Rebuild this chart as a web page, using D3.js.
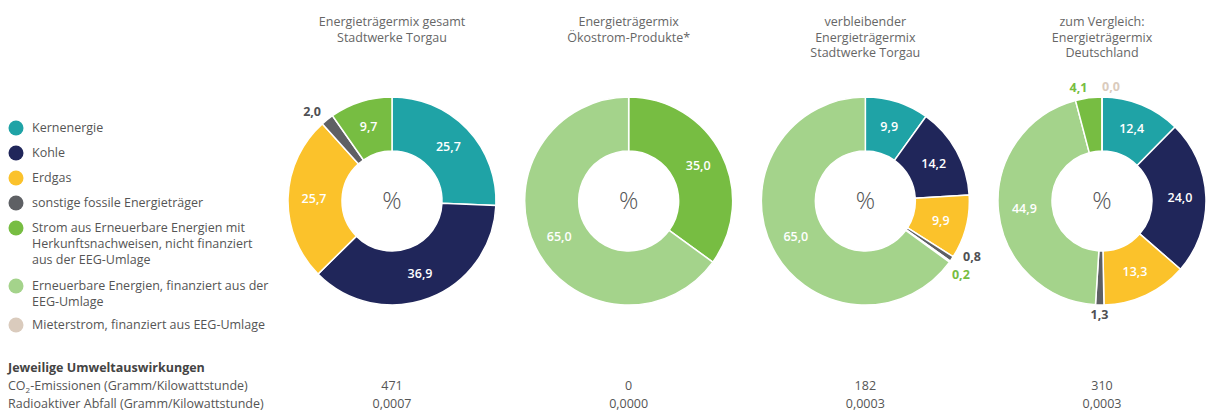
<!DOCTYPE html>
<html>
<head>
<meta charset="utf-8">
<script src="https://cdn.jsdelivr.net/npm/d3@7"></script>
<style>
  body { margin: 0; background: #fff; }
  text { font-family: "Open Sans", sans-serif; }
</style>
</head>
<body>
<svg id="chart" width="1206" height="412"></svg>
<script>
// categories (legend order)
const categories = [
  "Kernenergie",
  "Kohle",
  "Erdgas",
  "sonstige fossile Energieträger",
  "Strom aus Erneuerbare Energien mit Herkunftsnachweisen, nicht finanziert aus der EEG-Umlage",
  "Erneuerbare Energien, finanziert aus der EEG-Umlage",
  "Mieterstrom, finanziert aus EEG-Umlage"
];
const legendLines = [
  ["Kernenergie"],
  ["Kohle"],
  ["Erdgas"],
  ["sonstige fossile Energieträger"],
  ["Strom aus Erneuerbare Energien mit", "Herkunftsnachweisen, nicht finanziert", "aus der EEG-Umlage"],
  ["Erneuerbare Energien, finanziert aus der", "EEG-Umlage"],
  ["Mieterstrom, finanziert aus EEG-Umlage"]
];
const colors = ["#1fa3a6", "#20265a", "#fbc22b", "#5e6064", "#77bd42", "#a4d38b", "#dacbbd"];

// chart titles
const titles = [
  ["Energieträgermix gesamt", "Stadtwerke Torgau"],
  ["Energieträgermix", "Ökostrom-Produkte*"],
  ["verbleibender", "Energieträgermix", "Stadtwerke Torgau"],
  ["zum Vergleich:", "Energieträgermix", "Deutschland"]
];

// values per chart, in category order (null = not shown)
const mixGesamt    = [25.7, 36.9, 25.7, 2.0, 9.7, null, null];
const mixOekostrom = [null, null, null, null, 35.0, 65.0, null];
const mixRest      = [9.9, 14.2, 9.9, 0.8, 0.2, 65.0, null];
const mixDeutsch   = [12.4, 24.0, 13.3, 1.3, 4.1, 44.9, 0.0];
const mixes = [mixGesamt, mixOekostrom, mixRest, mixDeutsch];

// slice order (clockwise from top) per chart
const sliceOrder = [
  [0, 1, 2, 3, 4, 5, 6],
  [0, 1, 2, 3, 4, 5, 6],
  [0, 1, 2, 3, 4, 5, 6],
  [0, 1, 2, 3, 5, 4, 6]
];

// environmental impact
const impactTitle = "Jeweilige Umweltauswirkungen";
const co2Values = ["471", "0", "182", "310"];
const wasteValues = ["0,0007", "0,0000", "0,0003", "0,0003"];

const fmt = v => d3.format(".1f")(v).replace(".", ",");

const svg = d3.select("#chart");
const centers = d3.scalePoint().domain(d3.range(4)).range([392, 1102]);
const cy = 201;
const rOuter = 104, rInner = 50;

const pie = d3.pie().sort(null).value(d => d.value);
const arc = d3.arc().innerRadius(rInner).outerRadius(rOuter);
const labelArc = d3.arc().innerRadius(78).outerRadius(78);

// legend
const leg = svg.append("g");
let ly = 128;
legendLines.forEach((lines, i) => {
  leg.append("circle").attr("cx", 16).attr("cy", ly).attr("r", 7.5).attr("fill", colors[i]);
  lines.forEach((t, j) => {
    leg.append("text")
      .attr("x", 32).attr("y", ly + j * 16)
      .attr("dy", "0.35em")
      .attr("font-size", 12.5).attr("fill", "#555")
      .text(t);
  });
  ly += lines.length === 3 ? 58 : lines.length === 2 ? 39 : 25;
});

// donuts
mixes.forEach((mix, k) => {
  const cx = centers(k);
  const g = svg.append("g").attr("transform", `translate(${cx},${cy})`);

  svg.append("g").selectAll("text")
    .data(titles[k])
    .join("text")
    .attr("x", cx).attr("y", (d, i) => 22 + i * 15.5)
    .attr("dy", "0.35em")
    .attr("text-anchor", "middle")
    .attr("font-size", 12.5).attr("fill", "#666")
    .text(d => d);

  const data = sliceOrder[k]
    .filter(i => mix[i] != null)
    .map(i => ({ cat: i, value: mix[i] }));
  const arcs = pie(data);

  g.selectAll("path")
    .data(arcs)
    .join("path")
    .attr("d", arc)
    .attr("fill", d => colors[d.data.cat])
    .attr("stroke", "#fff")
    .attr("stroke-width", 1.5);

  // inside labels for large slices
  g.selectAll("text.in")
    .data(arcs.filter(d => d.data.value >= 5))
    .join("text")
    .attr("class", "in")
    .attr("transform", d => `translate(${labelArc.centroid(d)})`)
    .attr("dy", "0.35em")
    .attr("text-anchor", "middle")
    .attr("font-size", 12.5).attr("font-weight", 600)
    .attr("fill", "#fff")
    .text(d => fmt(d.data.value));

  // outside labels for small slices
  const outs = arcs.filter(d => d.data.value < 5).map(d => {
    const a = ((d.startAngle + d.endAngle) / 2) % (2 * Math.PI);
    const r = rOuter + 10;
    return {
      d, a,
      x: r * Math.sin(a),
      y: -r * Math.cos(a),
      anchor: Math.cos(a) < -0.9 ? "middle" : (Math.sin(a) >= 0 ? "start" : "end")
    };
  });
  // push apart labels that overlap vertically on the same side
  for (let i = 1; i < outs.length; i++) {
    const p = outs[i - 1], q = outs[i];
    if (p.anchor === q.anchor && Math.abs(p.y - q.y) < 16) {
      const m = (p.y + q.y) / 2, s = p.y <= q.y ? 1 : -1;
      p.y = m - s * 9; q.y = m + s * 9;
      p.x += 3; q.x -= 6;
    }
  }
  g.selectAll("text.out")
    .data(outs)
    .join("text")
    .attr("class", "out")
    .attr("x", o => o.x).attr("y", o => o.y)
    .attr("dy", "0.35em")
    .attr("text-anchor", o => o.anchor)
    .attr("font-size", 12.5).attr("font-weight", 700)
    .attr("fill", o => o.d.data.cat === 3 ? "#4f5053" : colors[o.d.data.cat])
    .text(o => fmt(o.d.data.value));

  g.append("text")
    .attr("dy", "0.35em")
    .attr("text-anchor", "middle")
    .attr("font-size", 24).attr("font-weight", 300)
    .attr("fill", "#555")
    .text("%");
});

// impact table
const tbl = svg.append("g");
tbl.append("text")
  .attr("x", 8).attr("y", 368).attr("dy", "0.35em")
  .attr("font-size", 12.5).attr("font-weight", 700).attr("fill", "#444")
  .text(impactTitle);

const co2 = tbl.append("text")
  .attr("x", 8).attr("y", 386).attr("dy", "0.35em")
  .attr("font-size", 12.5).attr("fill", "#555");
co2.append("tspan").text("CO");
co2.append("tspan").attr("font-size", 8).attr("dy", 3).text("2");
co2.append("tspan").attr("dy", -3).text("-Emissionen (Gramm/Kilowattstunde)");

tbl.append("text")
  .attr("x", 8).attr("y", 404).attr("dy", "0.35em")
  .attr("font-size", 12.5).attr("fill", "#555")
  .text("Radioaktiver Abfall (Gramm/Kilowattstunde)");

[co2Values, wasteValues].forEach((vals, r) => {
  tbl.append("g").selectAll("text")
    .data(vals)
    .join("text")
    .attr("x", (d, i) => centers(i))
    .attr("y", 386 + r * 18).attr("dy", "0.35em")
    .attr("text-anchor", "middle")
    .attr("font-size", 12.5).attr("fill", "#555")
    .text(d => d);
});
</script>
</body>
</html>
